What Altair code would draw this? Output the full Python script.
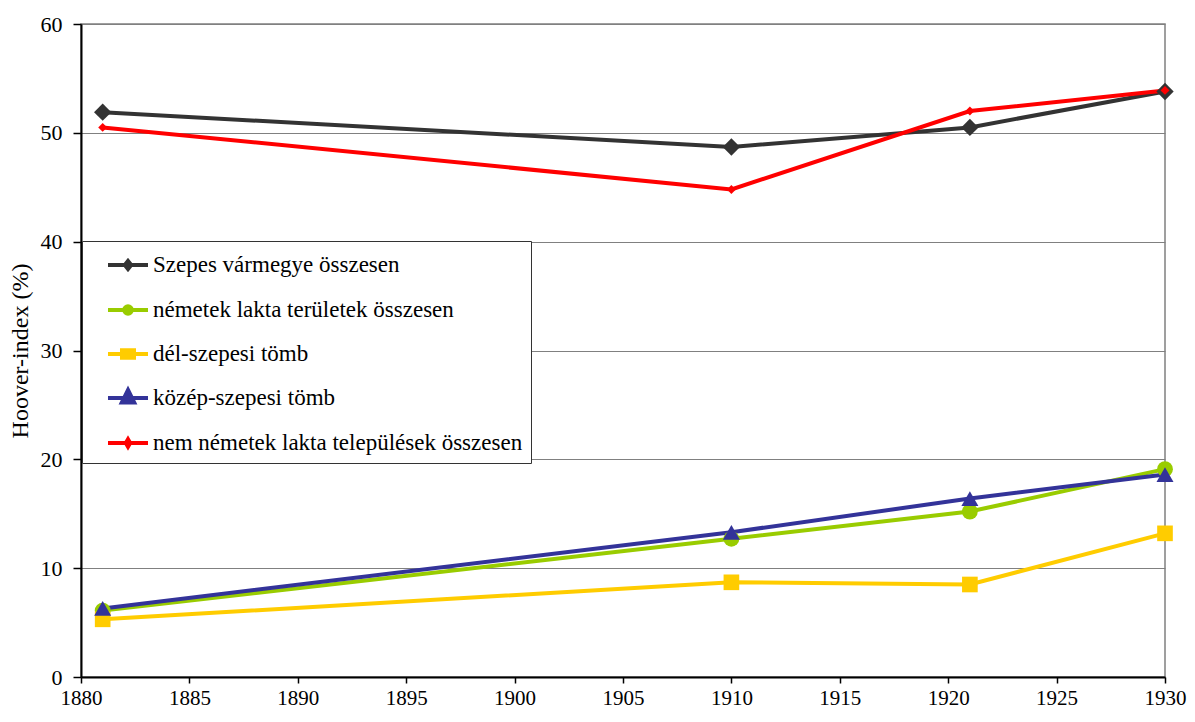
import altair as alt
import pandas as pd

years = [1881, 1910, 1921, 1930]
series_names = [
    "Szepes vármegye összesen",
    "németek lakta területek összesen",
    "dél-szepesi tömb",
    "közép-szepesi tömb",
    "nem németek lakta települések összesen",
]
szepes = [51.9, 48.7, 50.5, 53.8]
nemetek = [6.1, 12.7, 15.2, 19.1]
del_szepesi = [5.3, 8.7, 8.5, 13.2]
kozep = [6.3, 13.3, 16.4, 18.6]
nem_nemetek = [50.5, 44.8, 52.0, 53.9]
all_values = [szepes, nemetek, del_szepesi, kozep, nem_nemetek]

colors = ["#333333", "#99CC00", "#FFCC00", "#333399", "#FF0000"]
marker_shapes = ["diamond", "circle", "square", "triangle-up", "diamond"]
marker_sizes = [300, 250, 245, 290, 80]
legend_markers = [
    "M0,-0.286L0.229,0L0,0.286L-0.229,0Z",
    "M-0.271,0A0.271,0.271,0,1,0,0.271,0A0.271,0.271,0,1,0,-0.271,0Z",
    "M-0.429,-0.271L0.429,-0.271L0.429,0.271L-0.429,0.271Z",
    "M0,-0.571L0.443,0.329L-0.443,0.329Z",
    "M0,-0.271L0.157,0L0,0.271L-0.157,0Z",
]
legend_paths = ["M-1.429,0L1.429,0" + m for m in legend_markers]

rows = []
for i, (name, vals) in enumerate(zip(series_names, all_values)):
    for yr, v in zip(years, vals):
        rows.append({"year": yr, "value": v, "series": name, "order": i})
df = pd.DataFrame(rows)

FONT = "Liberation Serif"

x_enc = alt.X(
    "year:Q",
    scale=alt.Scale(domain=[1880, 1930], nice=False),
    axis=alt.Axis(
        values=list(range(1880, 1931, 5)),
        format="d",
        title=None,
        grid=False,
        tickSize=6,
        labelPadding=21,
        labelFontSize=21,
        labelBaseline="alphabetic",
        labelFlush=False,
    ),
)
y_enc = alt.Y(
    "value:Q",
    scale=alt.Scale(domain=[0, 60], nice=False),
    axis=alt.Axis(
        values=[0, 10, 20, 30, 40, 50, 60],
        title="Hoover-index (%)",
        grid=True,
        tickSize=8,
        labelPadding=11,
        titleX=-61,
        titleY=326.5,
        titleAngle=270,
        titleAlign="center",
        titleBaseline="middle",
    ),
)

color_scale = alt.Scale(domain=series_names, range=colors)

legend = alt.Legend(
    title=None,
    orient="none",
    legendX=1,
    legendY=217,
    direction="vertical",
    fillColor="white",
    strokeColor="#333333",
    padding=8,
    labelFont=FONT,
    labelFontSize=23,
    labelColor="black",
    labelLimit=600,
    labelOffset=9,
    symbolSize=784,
    symbolOffset=22,
    symbolStrokeWidth=4,
    symbolOpacity=1,
    rowPadding=16,
)

lines = alt.Chart(df).mark_line(strokeWidth=4).encode(
    x=x_enc,
    y=y_enc,
    color=alt.Color("series:N", scale=color_scale, legend=legend),
    order="year:Q",
)

# carries the legend symbols (zero-size marks)
legend_layer = alt.Chart(df).mark_point(
    filled=True, size=0, opacity=1, strokeWidth=4
).encode(
    x="year:Q",
    y="value:Q",
    color=alt.Color("series:N", scale=color_scale, legend=legend),
    stroke=alt.Stroke("series:N", scale=color_scale, legend=legend),
    shape=alt.Shape(
        "series:N",
        scale=alt.Scale(domain=series_names, range=legend_paths),
        legend=legend,
    ),
)

point_layers = []
for i, name in enumerate(series_names):
    pl = (
        alt.Chart(df)
        .transform_filter(alt.datum.series == name)
        .mark_point(
            shape=marker_shapes[i],
            size=marker_sizes[i],
            filled=True,
            opacity=1,
            color=colors[i],
        )
        .encode(x="year:Q", y="value:Q")
    )
    point_layers.append(pl)

chart = (
    alt.layer(lines, legend_layer, *point_layers)
    .properties(
        width=1084,
        height=653,
        autosize=alt.AutoSizeParams(type="none"),
        padding={"left": 73, "top": 16, "right": 22, "bottom": 33},
        background="white",
    )
    .configure_view(stroke="#808080", strokeWidth=1.5)
    .configure_axis(
        labelFont=FONT,
        labelFontSize=22,
        labelColor="black",
        titleFont=FONT,
        titleFontSize=24,
        titleFontWeight="normal",
        titleColor="black",
        domainColor="black",
        domainWidth=2,
        tickColor="black",
        tickWidth=1.5,
        gridColor="#808080",
        gridWidth=1,
    )
)

chart.save("out.html", embed_options={"renderer": "svg", "actions": False})
